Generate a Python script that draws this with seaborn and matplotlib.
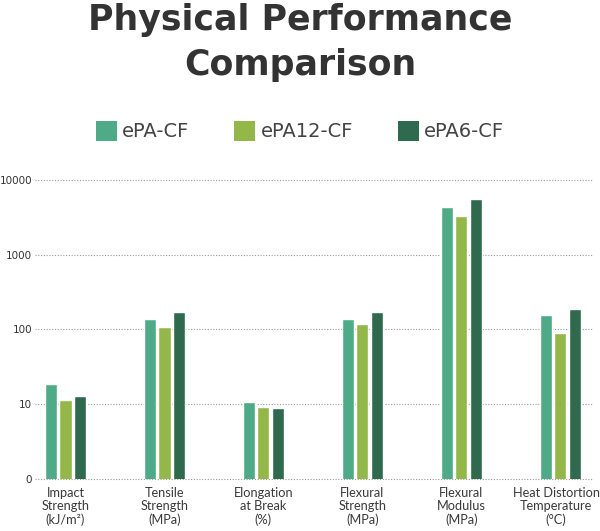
import matplotlib
matplotlib.use("Agg")
import matplotlib.pyplot as plt
import matplotlib.transforms as mtransforms
import seaborn as sns
import pandas as pd
from matplotlib.patches import Patch

categories = ["Impact\nStrength\n(kJ/m²)", "Tensile\nStrength\n(MPa)", "Elongation\nat Break\n(%)",
              "Flexural\nStrength\n(MPa)", "Flexural\nModulus\n(MPa)", "Heat Distortion\nTemperature\n(°C)"]
series = ["ePA-CF", "ePA12-CF", "ePA6-CF"]
epa_cf = [18.6, 140, 10.6, 138, 4300, 154]
epa12_cf = [11.4, 108, 9.1, 117, 3340, 90]
epa6_cf = [12.8, 172, 8.9, 170, 5580, 188]
colors = ["#4fab87", "#94b74a", "#2f6a4e"]
ytick_vals = [1, 10, 100, 1000, 10000]
ytick_labels = ["0", "10", "100", "1000", "10000"]

rows = []
for name, vals in zip(series, [epa_cf, epa12_cf, epa6_cf]):
    for c, v in zip(categories, vals):
        rows.append({"cat": c, "series": name, "value": v})
df = pd.DataFrame(rows)

sns.set_style("white")
plt.rcParams['font.family'] = ['DejaVu Sans']

fig = plt.figure(figsize=(6, 5.31), dpi=100)
ax = fig.add_axes([0.058, 0.098, 0.93, 0.563])

sns.barplot(data=df, x="cat", y="value", hue="series", order=categories, hue_order=series,
            palette=colors, width=0.44, gap=0.16, ax=ax, legend=False, saturation=1)
ax.set_yscale("log")
ax.set_ylim(1, 10000)
ax.set_xlim(-0.31, 5.33)
ax.set_yticks(ytick_vals)
ax.set_yticklabels(ytick_labels)
ax.yaxis.set_minor_locator(matplotlib.ticker.NullLocator())
for y in ytick_vals:
    ax.axhline(y, color="#9a9a9a", linestyle=(0, (1, 1.5)), linewidth=0.8, zorder=0, clip_on=False)
for s in ax.spines.values():
    s.set_visible(False)
ax.set_xlabel("")
ax.set_ylabel("")
ax.tick_params(axis="y", length=0, labelsize=7.5, labelcolor="#333333", pad=2)
ax.tick_params(axis="x", length=0, labelsize=9.2, labelcolor="#3a3a3a", pad=6)
xlabels = ax.get_xticklabels()
for lbl in xlabels:
    lbl.set_fontfamily("Lato")
    lbl.set_linespacing(1.12)
xlabels[-1].set_transform(xlabels[-1].get_transform() +
                          mtransforms.ScaledTranslation(-4 / 100, 0, fig.dpi_scale_trans))

fig.text(0.5, 1 - 30 / 531, "Physical Performance", ha="center", va="baseline",
         fontsize=25, fontweight="bold", color="#333333")
fig.text(0.5, 1 - 75 / 531, "Comparison", ha="center", va="baseline",
         fontsize=25, fontweight="bold", color="#333333")

handles = [Patch(facecolor=c, edgecolor="none") for c in colors]
leg = fig.legend(handles, series, loc="center", bbox_to_anchor=(0.5, 1 - 131 / 531), ncol=3,
                 frameon=False, fontsize=14, handlelength=1.08, handleheight=1.28,
                 columnspacing=2.3, handletextpad=0.26, borderpad=0, borderaxespad=0)
for t in leg.get_texts():
    t.set_color("#444444")

fig.savefig("out.png", dpi=100)
